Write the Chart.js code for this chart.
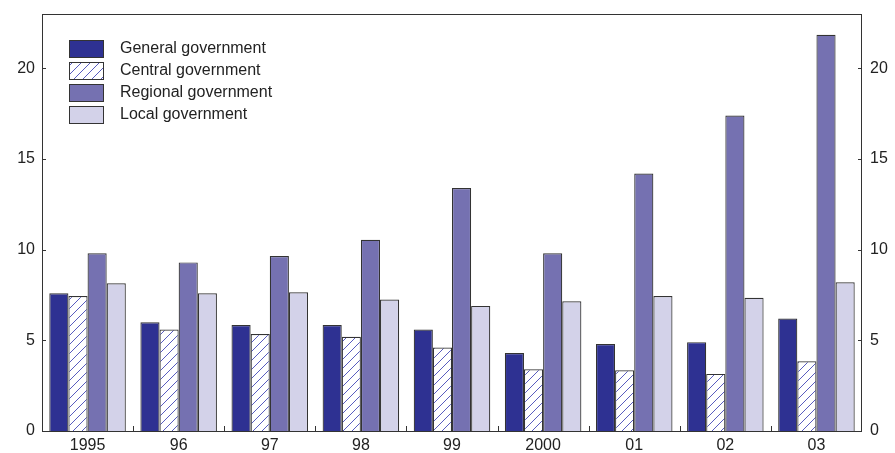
<!DOCTYPE html>
<html>
<head>
<meta charset="utf-8">
<script src="https://cdn.jsdelivr.net/npm/chart.js@4.4.1/dist/chart.umd.min.js"></script>
<style>
  html, body { margin: 0; padding: 0; background: #fff; }
</style>
</head>
<body>
<canvas id="chart" width="895" height="453"></canvas>
<script>
const years = ['1995', '96', '97', '98', '99', '2000', '01', '02', '03']
const seriesNames = ['General government', 'Central government', 'Regional government', 'Local government']
const general = [7.6, 6.0, 5.85, 5.85, 5.6, 4.3, 4.8, 4.9, 6.2]
const central = [7.45, 5.6, 5.35, 5.2, 4.6, 3.4, 3.35, 3.15, 3.85]
const regional = [9.8, 9.3, 9.65, 10.55, 13.4, 9.8, 14.2, 17.4, 21.85]
const local = [8.15, 7.6, 7.65, 7.25, 6.9, 7.15, 7.45, 7.35, 8.2]
const yTicks = [0, 5, 10, 15, 20]

const font = { family: '"Liberation Sans", Arial, sans-serif', size: 16 }
const textColor = '#222'
const edge = '#333'

function hatch() {
  const size = 9
  const c = document.createElement('canvas')
  c.width = size
  c.height = size
  const g = c.getContext('2d')
  g.fillStyle = '#fff'
  g.fillRect(0, 0, size, size)
  g.strokeStyle = '#4549b8'
  g.lineWidth = 0.9
  g.beginPath()
  g.moveTo(0, size); g.lineTo(size, 0)
  g.moveTo(-1, 1); g.lineTo(1, -1)
  g.moveTo(size - 1, size + 1); g.lineTo(size + 1, size - 1)
  g.stroke()
  return g.createPattern(c, 'repeat')
}

const fills = ['#2e3192', hatch(), '#7571b1', '#d3d2e9']
const values = [general, central, regional, local]

const frame = {
  id: 'frame',
  afterDatasetsDraw(chart) {
    const { ctx, chartArea: a, scales } = chart
    ctx.save()
    ctx.strokeStyle = edge
    ctx.lineWidth = 1
    ctx.strokeRect(a.left + 0.5, a.top + 0.5, a.right - a.left - 1, a.bottom - a.top)
    ctx.beginPath()
    for (const v of yTicks) {
      const y = Math.round(scales.y.getPixelForValue(v)) + 0.5
      ctx.moveTo(a.left, y); ctx.lineTo(a.left + 4, y)
      ctx.moveTo(a.right, y); ctx.lineTo(a.right - 4, y)
    }
    for (let i = 1; i < years.length; i++) {
      const x = Math.round((scales.x.getPixelForValue(i - 1) + scales.x.getPixelForValue(i)) / 2) + 0.5
      ctx.moveTo(x, a.bottom); ctx.lineTo(x, a.bottom - 5)
    }
    ctx.stroke()

    // legend inside the plot
    ctx.font = `${font.size}px ${font.family}`
    ctx.textBaseline = 'middle'
    seriesNames.forEach((name, i) => {
      const bx = a.left + 27, by = a.top + 26 + i * 22
      ctx.fillStyle = fills[i]
      ctx.fillRect(bx, by, 34, 17)
      ctx.strokeStyle = edge
      ctx.strokeRect(bx + 0.5, by + 0.5, 34, 17)
      ctx.fillStyle = textColor
      ctx.fillText(name, bx + 51, by + 9)
    })
    ctx.restore()
  }
}

const fixedTicks = s => { s.ticks = yTicks.map(value => ({ value })) }

new Chart(document.getElementById('chart'), {
  type: 'bar',
  data: {
    labels: years,
    datasets: seriesNames.map((label, i) => ({
      label,
      data: values[i],
      backgroundColor: fills[i],
      borderColor: edge,
      borderWidth: 1.2,
      categoryPercentage: 0.84,
      barPercentage: 1.0,
      yAxisID: 'y'
    }))
  },
  options: {
    responsive: false,
    animation: false,
    layout: { padding: { top: 14, left: 0, right: 0, bottom: 0 } },
    plugins: { legend: { display: false }, tooltip: { enabled: false } },
    scales: {
      x: {
        grid: { display: false, drawTicks: false },
        border: { display: false },
        ticks: { font, color: textColor, padding: 5, maxRotation: 0 },
        afterFit(s) { s.height = 22; s.paddingLeft = 0; s.paddingRight = 0 }
      },
      y: {
        position: 'left',
        min: 0, max: 23,
        grid: { display: false, drawTicks: false },
        border: { display: false },
        ticks: { font, color: textColor, padding: 7 },
        afterBuildTicks: fixedTicks,
        afterFit(s) { s.width = 42; s.paddingTop = 0; s.paddingBottom = 0 }
      },
      y2: {
        position: 'right',
        min: 0, max: 23,
        grid: { display: false, drawTicks: false },
        border: { display: false },
        ticks: { font, color: textColor, padding: 8 },
        afterBuildTicks: fixedTicks,
        afterFit(s) { s.width = 33; s.paddingTop = 0; s.paddingBottom = 0 }
      }
    }
  },
  plugins: [frame]
})
</script>
</body>
</html>
